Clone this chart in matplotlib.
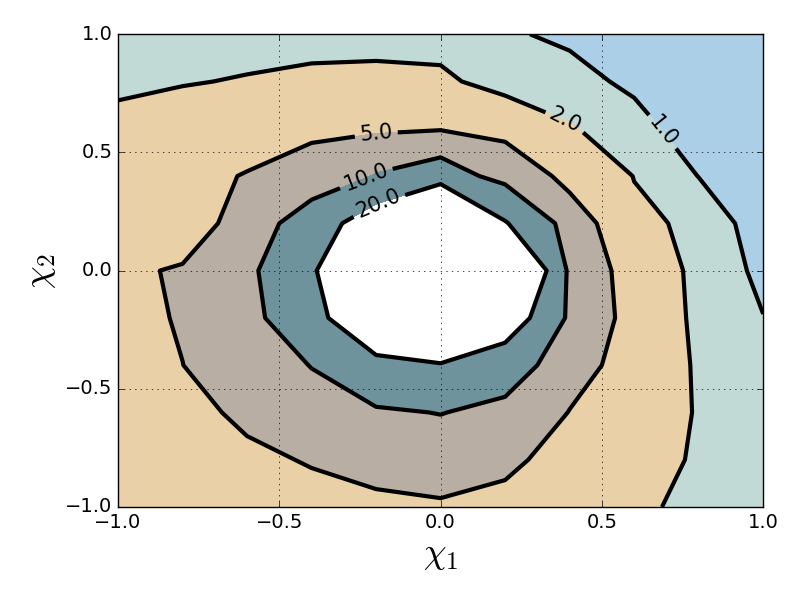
import numpy as np
import matplotlib
matplotlib.use('Agg')
import matplotlib.pyplot as plt

plt.style.use('classic')

# grid of the two parameters
chi1 = [-1.0, -0.8, -0.6, -0.4, -0.2, 0.0, 0.2, 0.4, 0.6, 0.8, 1.0]
chi2 = [-1.0, -0.8, -0.6, -0.4, -0.2, 0.0, 0.2, 0.4, 0.6, 0.8, 1.0]

# values on the grid, one row per chi2 value (bottom to top)
z = [
	[2.6, 2.8, 3.2, 3.59, 4.39, 4.77, 3.81, 3.0, 2.5, 1.34, 1.1],
	[2.8, 3.0, 4.15, 5.3, 6.0, 6.0, 5.9, 3.4, 3.0, 1.73, 1.2],
	[3.0, 3.67, 5.85, 8.0, 9.09, 10.2, 8.22, 4.9, 3.4, 1.84, 1.25],
	[3.6, 4.97, 7.2, 10.15, 16.71, 19.6, 13.61, 6.39, 3.61, 1.76, 1.2],
	[3.8, 5.3, 7.75, 15.78, 32.0, 29.6, 27.06, 8.71, 3.45, 1.65, 1.02],
	[4.63, 5.2, 8.25, 18.26, 40.0, 60.0, 40.8, 8.5, 3.1, 1.65, 0.78],
	[4.0, 3.8, 5.98, 14.02, 26.6, 52.0, 20.69, 6.9, 2.38, 1.66, 0.49],
	[3.4, 4.15, 5.15, 5.98, 10.4, 13.43, 7.71, 3.98, 1.95, 0.98, 0.45],
	[2.6, 3.0, 3.65, 4.58, 4.4, 4.74, 3.97, 2.11, 1.35, 0.5, 0.4],
	[1.6, 1.89, 2.12, 2.31, 2.385, 2.41, 1.16, 1.30, 0.816, 0.45, 0.35],
	[1.3, 1.3, 1.32, 1.5, 1.5, 1.22, 1.1, 0.84, 0.5, 0.35, 0.3],
]

levels = [1.0, 2.0, 5.0, 10.0, 20.0]
fill_levels = [0.0, 1.0, 2.0, 5.0, 10.0, 20.0]
fill_colors = ['#abcfe7', '#c1dad6', '#e9d0a6', '#b8aea3', '#6e939c']

# where the labels sit
label_pos = [(0.70, 0.60), (0.39, 0.645), (-0.20, 0.59), (-0.23, 0.39), (-0.19, 0.27)]

fig = plt.figure(figsize=(8, 6), dpi=100)
ax = fig.add_subplot(111)
fig.subplots_adjust(left=0.1475, right=0.954, bottom=0.155, top=0.943)

X, Y = np.meshgrid(chi1, chi2)
Z = np.array(z)

ax.contourf(X, Y, Z, levels=fill_levels, colors=fill_colors)
cs = ax.contour(X, Y, Z, levels=levels, colors='k', linewidths=3)
ax.clabel(cs, fmt='%.1f', fontsize=15, inline=True, manual=label_pos)

ax.set_xlim(-1, 1)
ax.set_ylim(-1, 1)
ax.set_xticks([-1.0, -0.5, 0.0, 0.5, 1.0])
ax.set_yticks([-1.0, -0.5, 0.0, 0.5, 1.0])
ax.tick_params(labelsize=14)
ax.grid(True)
ax.set_xlabel(r'$\chi_1$', fontsize=26)
ax.set_ylabel(r'$\chi_2$', fontsize=26)

plt.savefig('out.png', dpi=100)
